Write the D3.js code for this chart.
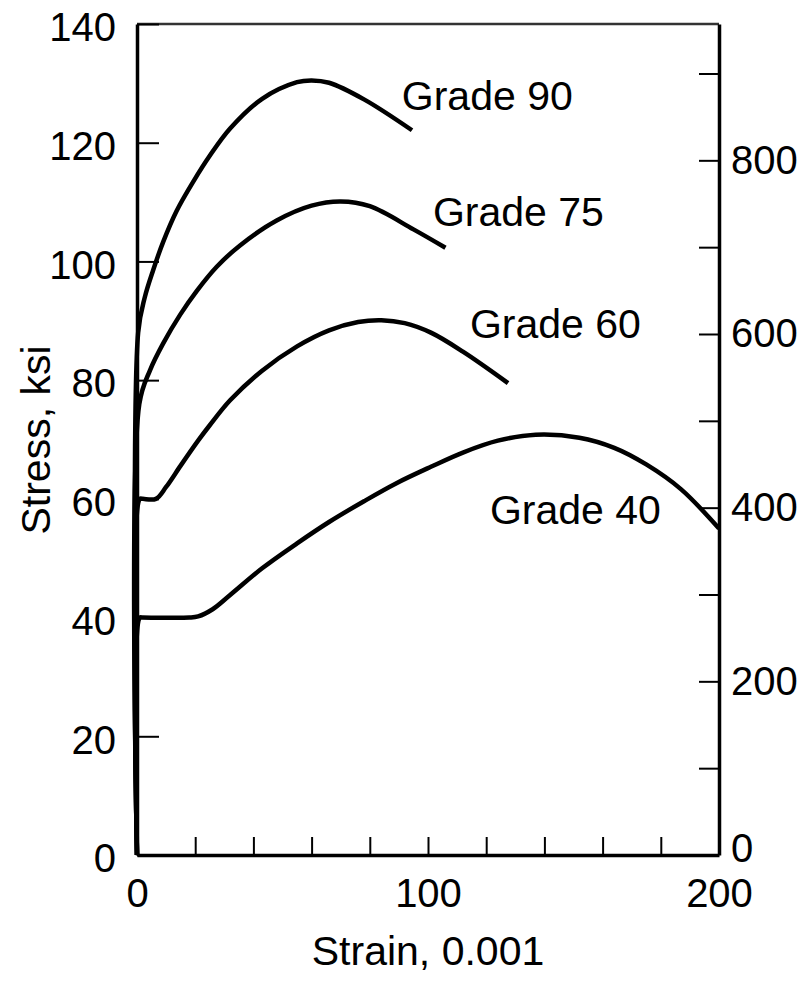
<!DOCTYPE html>
<html>
<head>
<meta charset="utf-8">
<script src="https://cdn.jsdelivr.net/npm/d3@7"></script>
<style>
    body { margin: 0; background: #fff; }
    svg { display: block; font-family: 'Liberation Sans', Arial, sans-serif; }
    .axis text { font-size: 40px; fill: #000; }
    .axis .domain { stroke: #000; stroke-width: 3.5; }
    .axis .tick line { stroke: #000; stroke-width: 2; }
    .curve { fill: none; stroke: #000; stroke-width: 4.5; stroke-linejoin: round; }
    .label { font-size: 41px; fill: #000; }
</style>
</head>
<body>
<svg id="chart"></svg>
<script>
//DATA (strain in 0.001, stress in ksi)
var strain90 = [0, 0.4, 2.7, 5.6, 9, 13.6, 19.4, 25, 32, 43, 55, 60, 66, 78, 94.5],
    stress90 = [0, 88, 94, 98.6, 103.3, 108.5, 113.5, 117.8, 122.4, 127.4, 130.2, 130.5, 130.1, 127.3, 122.1];

var strain75 = [0, 0.8, 4.5, 9, 14.8, 20.5, 27.4, 35.4, 48, 60, 70, 80, 95, 106],
    stress75 = [0, 76, 81.7, 86.2, 91, 95, 99.1, 102.7, 106.9, 109.4, 110.1, 109.3, 105.4, 102.3];

var strain60 = [0, 1, 2, 6.5, 10, 15, 21, 25, 32, 43, 55, 66, 76, 84, 92, 101, 112, 127.5],
    stress60 = [0, 60, 60, 60, 62, 65.6, 69.8, 72.4, 76.6, 81.6, 85.7, 88.4, 89.8, 90.1, 89.6, 88, 84.8, 79.5];

var strain40 = [0, 1, 2, 18, 21, 26, 32, 43, 55, 66, 78, 89, 101, 112, 124, 137, 152, 164, 175, 187, 200],
    stress40 = [0, 40, 40, 40, 40.2, 41.4, 43.8, 48.3, 52.5, 56.1, 59.6, 62.6, 65.4, 67.8, 69.8, 70.8, 70.3, 68.6, 65.8, 61.6, 55];

var grades = ['Grade 90', 'Grade 75', 'Grade 60', 'Grade 40'];

//tick values
var strainTicks = [0, 20, 40, 60, 80, 100, 120, 140, 160, 180, 200],
    strainLabels = [0, 100, 200],
    ksiTicks = [0, 20, 40, 60, 80, 100, 120, 140],
    mpaTicks = [0, 100, 200, 300, 400, 500, 600, 700, 800, 900],
    mpaLabels = [0, 200, 400, 600, 800];

var ksiMax = 140,
    mpaMax = 957,
    strainMax = 200;

//STRESS-STRAIN CHART
function stressStrain() {
    //chart parameters
    var svg = d3.select('#chart')
        .attr('width', 808)
        .attr('height', 981);

    //define margins and chart extent
    var margin = {top: 24, right: 89, bottom: 126, left: 137},
        width = +svg.attr('width') - margin.left - margin.right,
        height = +svg.attr('height') - margin.top - margin.bottom;

    //define scales
    var xScale = d3.scaleLinear().domain([0, strainMax]).range([0, width]),
        yScale = d3.scaleLinear().domain([0, ksiMax]).range([height, 0]),
        yRight = d3.scaleLinear().domain([0, mpaMax]).range([height, 0]);

    //create chart group
    var canvas = svg.append('g')
        .attr('class', 'canvas')
        .attr('transform', 'translate(' + margin.left + ',' + margin.top + ')');

    //top border
    canvas.append('line')
        .attr('x1', xScale(0))
        .attr('x2', xScale(strainMax))
        .attr('y1', yScale(ksiMax))
        .attr('y2', yScale(ksiMax))
        .style('stroke', '#333')
        .style('stroke-width', 2.5);

    //bottom axis, ticks pointing in
    canvas.append('g')
        .attr('class', 'axis axis-x')
        .attr('transform', 'translate(0,' + height + ')')
        .call(d3.axisBottom(xScale)
            .tickValues(strainTicks)
            .tickSizeInner(-18)
            .tickSizeOuter(0)
            .tickPadding(24)
            .tickFormat(d => strainLabels.indexOf(d) >= 0 ? d : ''));

    //left axis
    canvas.append('g')
        .attr('class', 'axis axis-y')
        .call(d3.axisLeft(yScale)
            .tickValues(ksiTicks)
            .tickSizeInner(-22)
            .tickSizeOuter(0)
            .tickPadding(21))
        .selectAll('text')
            .attr('dy', '0.42em');

    //right axis in MPa (bottom label nudged up, clear of the 200)
    canvas.append('g')
        .attr('class', 'axis axis-y2')
        .attr('transform', 'translate(' + width + ',0)')
        .call(d3.axisRight(yRight)
            .tickValues(mpaTicks)
            .tickSizeInner(-20)
            .tickSizeOuter(0)
            .tickPadding(12)
            .tickFormat(d => mpaLabels.indexOf(d) >= 0 ? d : ''))
        .selectAll('text')
            .attr('dy', d => d === 0 ? '0.15em' : '0.32em');

    //axis labels
    svg.append('text')
        .attr('class', 'label')
        .attr('text-anchor', 'middle')
        .attr('transform', 'translate(50,440) rotate(-90)')
        .text('Stress, ksi');

    svg.append('text')
        .attr('class', 'label')
        .attr('text-anchor', 'middle')
        .attr('x', margin.left + width / 2)
        .attr('y', 965)
        .text('Strain, 0.001');

    //build series
    var series = [
        d3.zip(strain90, stress90),
        d3.zip(strain75, stress75),
        d3.zip(strain60, stress60),
        d3.zip(strain40, stress40)
    ];

    var line = d3.line()
        .x(d => xScale(d[0]))
        .y(d => yScale(d[1]))
        .curve(d3.curveCatmullRom.alpha(0.5));

    canvas.selectAll('.curve').data(series)
        .enter().append('path')
            .attr('class', 'curve')
            .attr('d', line);

    //grade labels (strain, stress at text baseline)
    var labelAt = [[91, 125.5], [101.7, 106], [114.4, 87.1], [121.3, 55.8]];

    canvas.selectAll('.grade').data(grades)
        .enter().append('text')
            .attr('class', 'label grade')
            .attr('x', (d, i) => xScale(labelAt[i][0]))
            .attr('y', (d, i) => yScale(labelAt[i][1]))
            .text(d => d);
}

stressStrain();
</script>
</body>
</html>
